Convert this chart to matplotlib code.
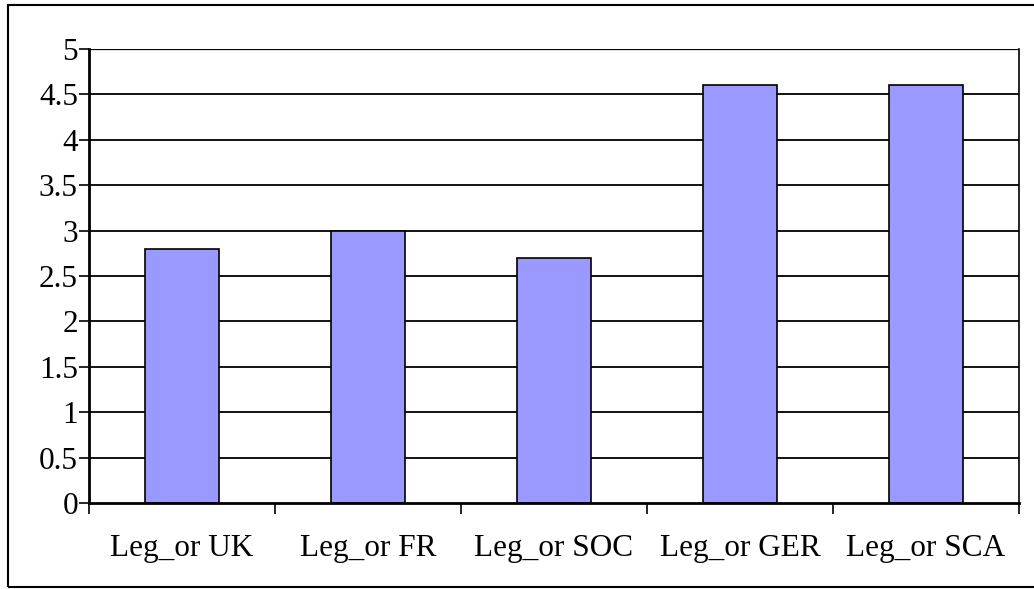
import numpy as np
import matplotlib
matplotlib.use('Agg')
import matplotlib.pyplot as plt
from matplotlib.patches import Rectangle

# Data
categories = ['Leg_or UK', 'Leg_or FR', 'Leg_or SOC', 'Leg_or GER', 'Leg_or SCA']
values = [2.8, 3.0, 2.7, 4.6, 4.6]
yticks = [0, 0.5, 1, 1.5, 2, 2.5, 3, 3.5, 4, 4.5, 5]
ytick_labels = ['0', '0.5', '1', '1.5', '2', '2.5', '3', '3.5', '4', '4.5', '5']

plt.rcParams['font.family'] = ['Liberation Serif', 'DejaVu Serif']

W, H = 1034, 589
fig = plt.figure(figsize=(W / 100, H / 100), dpi=100)
ax = fig.add_axes([89 / W, 1 - 503 / H, (1019 - 89) / W, (503 - 49) / H])

x = np.arange(len(categories))
ax.bar(x, values, width=0.4, color='#9999FF', edgecolor='black', linewidth=1.2, zorder=3)

ax.set_xlim(-0.5, len(categories) - 0.5)
ax.set_ylim(0, 5)

# Horizontal gridlines
for y in yticks[1:]:
    ax.axhline(y, color='black', linewidth=1.6 if y == 5 else 1.3, zorder=1)

ax.set_yticks(yticks)
ax.set_yticklabels(ytick_labels, fontsize=22.5)
ax.tick_params(axis='y', direction='out', length=7, width=1.2, pad=1)

# category labels centred, tick marks between categories
ax.set_xticks(x)
ax.set_xticklabels(categories, fontsize=22.5)
ax.tick_params(axis='x', which='major', length=0, pad=22)
ax.set_xticks(np.arange(-0.5, len(categories), 1), minor=True)
ax.tick_params(axis='x', which='minor', direction='out', length=8, width=1.2)

ax.spines['top'].set_visible(False)
ax.spines['left'].set_linewidth(2)
ax.spines['bottom'].set_linewidth(2)
ax.spines['bottom'].set_zorder(4)
ax.spines['right'].set_linewidth(1.2)

# outer chart border (right edge falls just outside the image)
fig.patches.append(Rectangle((8 / W, 1 - 587 / H), (1040 - 8) / W, (587 - 5) / H,
                             transform=fig.transFigure, fill=False,
                             edgecolor='black', linewidth=1.5))

fig.savefig('out.png', dpi=100)
